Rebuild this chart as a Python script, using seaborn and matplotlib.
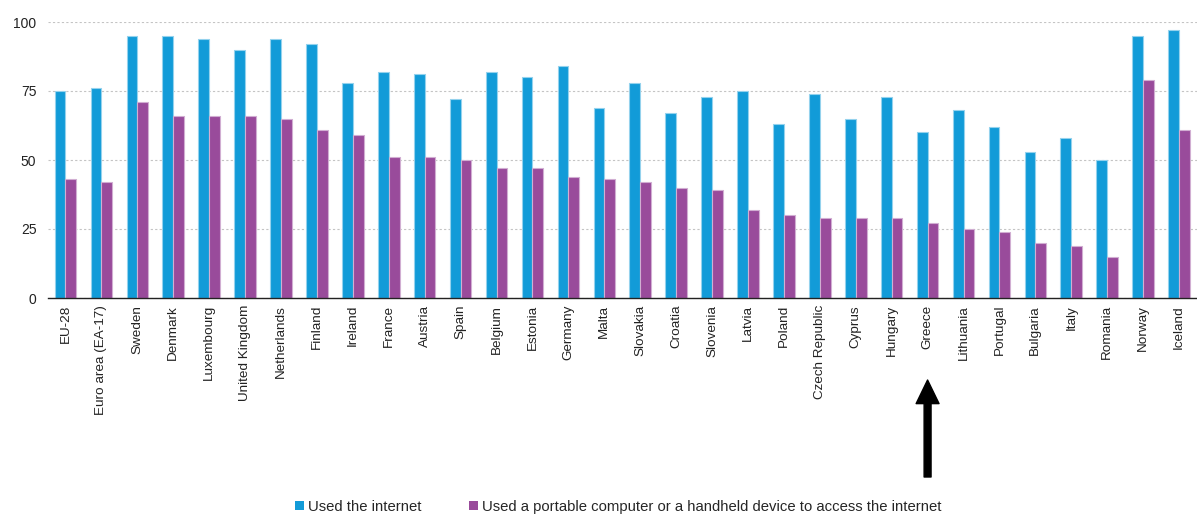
import matplotlib
matplotlib.use("Agg")
import matplotlib.pyplot as plt
import seaborn as sns
import pandas as pd
from matplotlib.patches import Patch
from matplotlib.colors import to_rgb

countries = ["EU-28", "Euro area (EA-17)", "Sweden", "Denmark", "Luxembourg", "United Kingdom",
             "Netherlands", "Finland", "Ireland", "France", "Austria", "Spain", "Belgium", "Estonia",
             "Germany", "Malta", "Slovakia", "Croatia", "Slovenia", "Latvia", "Poland",
             "Czech Republic", "Cyprus", "Hungary", "Greece", "Lithuania", "Portugal", "Bulgaria",
             "Italy", "Romania", "Norway", "Iceland"]
used_internet = [75, 76, 95, 95, 94, 90, 94, 92, 78, 82, 81, 72, 82, 80, 84, 69, 78, 67, 73, 75,
                 63, 74, 65, 73, 60, 68, 62, 53, 58, 50, 95, 97]
used_portable = [43, 42, 71, 66, 66, 66, 65, 61, 59, 51, 51, 50, 47, 47, 44, 43, 42, 40, 39, 32,
                 30, 29, 29, 29, 27, 25, 24, 20, 19, 15, 79, 61]
series_names = ["Used the internet",
                "Used a portable computer or a handheld device to access the internet"]
colors = ["#129BD8", "#994B9B"]
highlight = "Greece"

df = pd.DataFrame({
    "country": countries * 2,
    "series": [series_names[0]] * len(countries) + [series_names[1]] * len(countries),
    "value": used_internet + used_portable,
})

sns.set_style("white")
plt.rcParams["font.family"] = ["Liberation Sans", "DejaVu Sans"]

fig = plt.figure(figsize=(11.97, 5.14), dpi=100)
ax = fig.add_axes([47.5 / 1197, 1 - 298 / 514, 1 - 47.5 / 1197, (298 - 22) / 514])

sns.barplot(data=df, x="country", y="value", hue="series", palette=colors,
            width=0.6, ax=ax, legend=False, saturation=1, edgecolor="none")

# light edge around each bar, as in the reference
for p in ax.patches:
    r, g, b = to_rgb(p.get_facecolor())
    p.set_edgecolor((r + (1 - r) * 0.55, g + (1 - g) * 0.55, b + (1 - b) * 0.55))
    p.set_linewidth(0.8)

ax.set_ylim(0, 100)
ax.set_xlim(-0.5, len(countries) - 0.5)
ax.set_yticks([0, 25, 50, 75, 100])
ax.tick_params(axis="y", length=0, labelsize=10, pad=8, colors="#222222")
ax.yaxis.grid(True, linestyle=(0, (2, 2)), color="#C4C4C4", linewidth=0.8)
ax.set_axisbelow(True)
ax.set_xlabel("")
ax.set_ylabel("")
for s in ["top", "right", "left"]:
    ax.spines[s].set_visible(False)
ax.spines["bottom"].set_color("#222222")
ax.spines["bottom"].set_linewidth(1.0)

ax.set_xticks(range(len(countries)))
ax.set_xticklabels(countries, rotation=90, fontsize=9.7, color="#222222")
ax.tick_params(axis="x", which="major", length=0, pad=5)
ax.set_xticks([i - 0.5 for i in range(len(countries) + 1)], minor=True)
ax.tick_params(axis="x", which="minor", length=6, width=1, color="#222222", direction="out")

handles = [Patch(facecolor=c, edgecolor="none") for c in colors]
fig.legend(handles, series_names, loc="center", bbox_to_anchor=(0.5165, 7 / 514), ncol=2,
           frameon=False, fontsize=10.7, handlelength=0.6, handleheight=0.6,
           handletextpad=0.3, columnspacing=3.2, borderaxespad=0)

gi = countries.index(highlight)
ax.annotate("", xy=(gi, 514 - 380), xycoords=("data", "figure pixels"),
            xytext=(gi, 514 - 477), textcoords=("data", "figure pixels"),
            arrowprops=dict(facecolor="black", edgecolor="black", width=5,
                            headwidth=16.5, headlength=17, shrink=0))

fig.savefig("out.png", dpi=100)
